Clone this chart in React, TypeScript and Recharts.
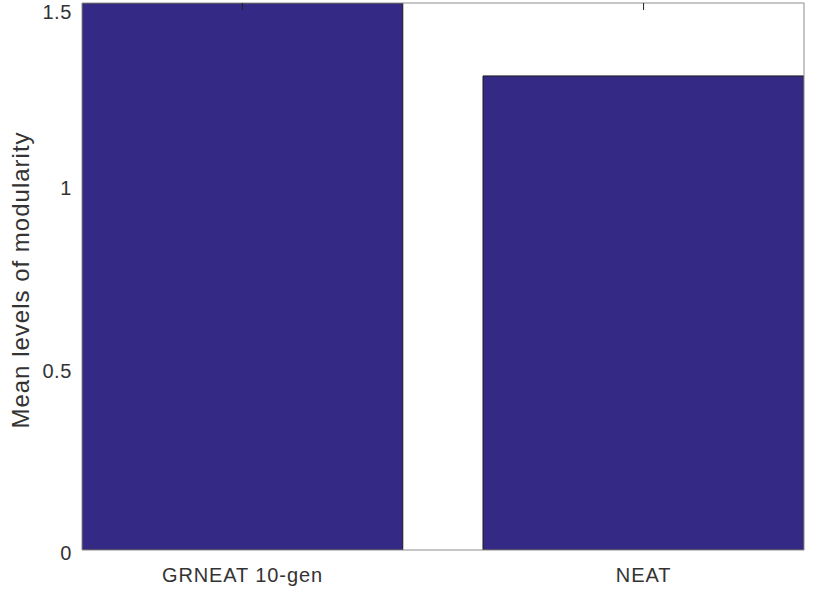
import { BarChart, Bar, XAxis, YAxis } from 'recharts';

// Mean levels of modularity per method
const categories = ['GRNEAT 10-gen', 'NEAT'];
const modularity = [1.5, 1.3];
const xPositions = [1, 2];
const yTicks = [0, 0.5, 1, 1.5];

const data = categories.map((name, i) => ({ x: xPositions[i], name, value: modularity[i] }));

const WIDTH = 813;
const HEIGHT = 599;
const MARGIN = { top: 3, right: 8, bottom: 0, left: 0 };
const Y_AXIS_WIDTH = 82;
const X_AXIS_HEIGHT = 49;
const X_DOMAIN: [number, number] = [0.6, 2.4];
const BAR_FRACTION = 0.8;

const plotWidth = WIDTH - MARGIN.left - MARGIN.right - Y_AXIS_WIDTH - 1;
const barPx = (plotWidth * BAR_FRACTION) / (X_DOMAIN[1] - X_DOMAIN[0]);

const FONT = '"Liberation Sans", Arial, Helvetica, sans-serif';
const TEXT_COLOR = '#333333';
const AXIS_COLOR = '#8c8c8c';
const BAR_COLOR = '#342a85';

function YTick({ x, y, payload }: any) {
  return (
    <text x={x} y={y} dy="0.5em" textAnchor="end" fill={TEXT_COLOR} fontSize={20} fontFamily={FONT} letterSpacing={0.6}>
      {payload.value}
    </text>
  );
}

function XTick({ x, y, payload }: any) {
  const idx = xPositions.indexOf(payload.value);
  return (
    <text x={x} y={y} dy="0.71em" textAnchor="middle" fill={TEXT_COLOR} fontSize={20} fontFamily={FONT} letterSpacing={0.9}>
      {idx >= 0 ? categories[idx] : ''}
    </text>
  );
}

// top mirrored axis only shows its tick marks
function NoLabel() {
  return null;
}

function YLabel() {
  const cx = 29;
  const cy = 280;
  return (
    <text
      x={cx}
      y={cy}
      transform={`rotate(-90, ${cx}, ${cy})`}
      textAnchor="middle"
      fill={TEXT_COLOR}
      fontSize={24}
      fontFamily={FONT}
      letterSpacing={1}
    >
      Mean levels of modularity
    </text>
  );
}

export default function App() {
  return (
    <div style={{ position: 'absolute', left: 0, top: 0, background: '#fff' }}>
      <BarChart width={WIDTH} height={HEIGHT} data={data} margin={MARGIN}>
        <XAxis
          dataKey="x"
          type="number"
          domain={X_DOMAIN}
          ticks={xPositions}
          allowDataOverflow
          height={X_AXIS_HEIGHT}
          tickSize={0}
          tickMargin={18}
          tick={<XTick />}
          axisLine={{ stroke: AXIS_COLOR }}
          tickLine={false}
        />
        <XAxis
          xAxisId="top"
          dataKey="x"
          type="number"
          orientation="top"
          mirror
          domain={X_DOMAIN}
          ticks={xPositions}
          allowDataOverflow
          height={1}
          tick={<NoLabel />}
          tickSize={7}
          tickLine={{ stroke: '#222' }}
          axisLine={{ stroke: AXIS_COLOR }}
        />
        <YAxis
          type="number"
          domain={[0, 1.5]}
          ticks={yTicks}
          allowDataOverflow
          width={Y_AXIS_WIDTH}
          tickSize={0}
          tickMargin={10}
          tick={<YTick />}
          tickLine={false}
          axisLine={{ stroke: AXIS_COLOR }}
        />
        <YAxis
          yAxisId="right"
          orientation="right"
          type="number"
          domain={[0, 1.5]}
          width={1}
          tick={false}
          tickLine={false}
          axisLine={{ stroke: AXIS_COLOR }}
        />
        <Bar
          dataKey="value"
          fill={BAR_COLOR}
          stroke="#1a1a1a"
          strokeWidth={1}
          barSize={barPx}
          isAnimationActive={false}
        />
        <YLabel />
      </BarChart>
    </div>
  );
}
